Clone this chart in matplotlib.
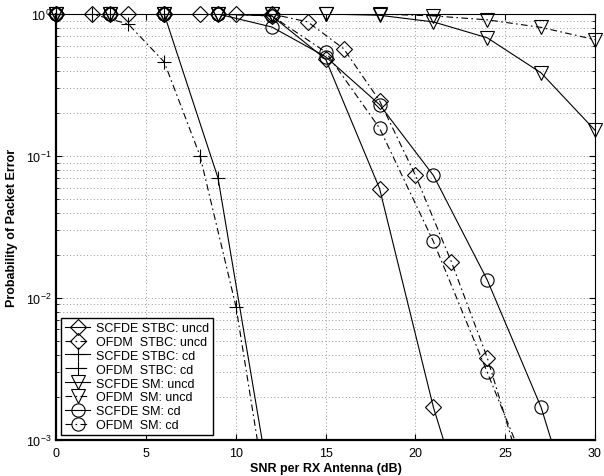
import numpy as np
import matplotlib
matplotlib.use('Agg')
import matplotlib.pyplot as plt
from matplotlib.lines import Line2D

plt.rcParams['font.family'] = ['Liberation Sans', 'DejaVu Sans']
plt.rcParams['mathtext.fontset'] = 'custom'
plt.rcParams['mathtext.rm'] = 'Liberation Sans'
plt.rcParams['mathtext.it'] = 'Liberation Sans:italic'

# SNR grids (dB)
snr_step3 = [0, 3, 6, 9, 12, 15, 18, 21, 24, 27, 30]
snr_step2 = [0, 2, 4, 6, 8, 10, 12, 14, 16, 18, 20, 22, 24, 26]

# packet error probabilities
scfde_stbc_uncd = [1, 1, 1, 1, 0.97, 0.48, 0.059, 0.0017, 1e-4]
ofdm_stbc_uncd = [1, 1, 1, 1, 1, 1, 1, 0.88, 0.57, 0.245, 0.073, 0.018, 0.0038, 5.5e-4]
scfde_stbc_cd = [1, 1, 1, 0.070, 3.9e-4]
ofdm_stbc_cd = [1, 1, 0.85, 0.46, 0.10, 0.0087, 2.3e-4]
scfde_sm_uncd = [1, 1, 1, 1, 1, 1, 0.98, 0.88, 0.68, 0.385, 0.152]
ofdm_sm_uncd = [1, 1, 1, 1, 1, 1, 1, 0.97, 0.91, 0.805, 0.66]
scfde_sm_cd = [1, 1, 1, 1, 0.81, 0.50, 0.23, 0.073, 0.0134, 0.0017, 1e-4]
ofdm_sm_cd = [1, 1, 1, 1, 0.97, 0.54, 0.157, 0.025, 0.003, 3.5e-4]

dashdot = (0, (6, 3, 1.5, 3))

series = [
    ('SCFDE STBC: uncd', snr_step3, scfde_stbc_uncd, '-', 'D', 8),
    ('OFDM  STBC: uncd', snr_step2, ofdm_stbc_uncd, dashdot, 'D', 8),
    ('SCFDE STBC: cd', snr_step3, scfde_stbc_cd, '-', '+', 10),
    ('OFDM  STBC: cd', snr_step2, ofdm_stbc_cd, dashdot, '+', 10),
    ('SCFDE SM: uncd', snr_step3, scfde_sm_uncd, '-', 'v', 9.5),
    ('OFDM  SM: uncd', snr_step3, ofdm_sm_uncd, dashdot, 'v', 9.5),
    ('SCFDE SM: cd', snr_step3, scfde_sm_cd, '-', 'o', 9.5),
    ('OFDM  SM: cd', snr_step3, ofdm_sm_cd, dashdot, 'o', 9.5),
]

fig = plt.figure(figsize=(6.04, 4.77), dpi=100)
ax = fig.add_axes([0.0935, 0.0755, 0.8915, 0.893])

handles = []
for label, x, y, ls, mk, ms in series:
    x = np.array(x[:len(y)], dtype=float)
    y = np.array(y, dtype=float)
    ax.plot(x, y, color='k', linestyle=ls, linewidth=0.8)
    m = y >= 1e-3
    ax.plot(x[m], y[m], linestyle='none', marker=mk, markersize=ms,
            markerfacecolor='none', markeredgecolor='k', markeredgewidth=0.8,
            clip_on=False, zorder=3)
    handles.append(Line2D([], [], color='k', linestyle=ls, linewidth=0.8,
                          marker=mk, markersize=ms, markerfacecolor='none',
                          markeredgewidth=0.8, label=label))

ax.set_yscale('log')
ax.set_xlim(0, 30)
ax.set_ylim(1e-3, 1)
ax.set_xticks(np.arange(0, 31, 5))
ax.tick_params(which='both', direction='in', top=True, right=True, labelsize=9)
ax.tick_params(which='major', length=4)
ax.tick_params(which='minor', length=2.5)
ax.tick_params(axis='x', pad=5)
grid_ls = (0, (1, 2.5))
ax.grid(True, which='major', linestyle=grid_ls, color='0.6', linewidth=0.7)
ax.grid(True, which='minor', axis='y', linestyle=grid_ls, color='0.6', linewidth=0.7)

for side in ['left', 'bottom']:
    ax.spines[side].set_linewidth(1.6)
for side in ['top', 'right']:
    ax.spines[side].set_linewidth(0.8)

ax.set_xlabel('SNR per RX Antenna (dB)', fontsize=9, fontweight='bold', labelpad=2)
ax.set_ylabel('Probability of Packet Error', fontsize=9, fontweight='bold', labelpad=6)

leg = ax.legend(handles=handles, loc='lower left', fontsize=9, frameon=True,
                fancybox=False, edgecolor='k', framealpha=1, handlelength=2.0,
                labelspacing=0.15, borderpad=0.3, handletextpad=0.5,
                borderaxespad=0.4)
leg.get_frame().set_linewidth(1.0)

fig.savefig('out.png', dpi=100)
